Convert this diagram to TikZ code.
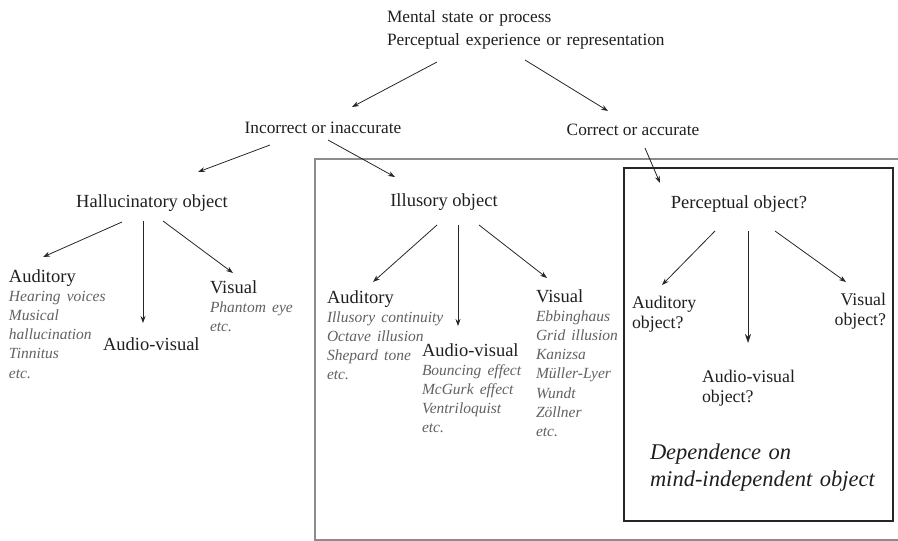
\documentclass[tikz,border=0pt]{standalone}
\usepackage{fontspec}
\setmainfont{Liberation Serif}
\usetikzlibrary{arrows.meta}
\newcommand\itm[1]{{\fontsize{15.5}{19.2}\selectfont\itshape\color{black!62}#1}}
\begin{document}
\begin{tikzpicture}[x=1pt,y=-1pt,
  every node/.style={inner sep=0pt, outer sep=0pt},
  hd/.style={font=\fontsize{17.3}{23}\selectfont, text=black!88, anchor=base},
  ohd/.style={hd, font=\fontsize{18.5}{23}\selectfont},
  blk/.style={align=left, text width=170pt, anchor=base west, font=\fontsize{18.5}{19.2}\selectfont, text=black!88},
  arr/.style={-{Stealth[length=7pt,width=5pt]}, line width=0.8pt, draw=black!85},
  bigarr/.style={-{Stealth[length=9pt,width=6pt]}, line width=0.8pt, draw=black!85},
]
\useasboundingbox (0,0) rectangle (898,541);
% boxes
\draw[line width=1.5pt, draw=black!45] (898,159) -- (315,159) -- (315,540) -- (898,540);
\draw[line width=1.8pt, draw=black!85] (624,168) rectangle (893,521);
% nodes
\node[blk, text width=300pt, font=\fontsize{17.3}{23}\selectfont] (top) at (387,22) {Mental state or process\\Perceptual experience or representation};
\node[hd] (inc) at (323,133) {Incorrect or inaccurate};
\node[hd] (cor) at (633,135) {Correct or accurate};
\node[ohd] (hal) at (152,207) {Hallucinatory object};
\node[ohd] (ill) at (444,206) {Illusory object};
\node[ohd] (per) at (739,208) {Perceptual object?};
\node[blk] (ha) at (9,282) {Auditory\\\itm{Hearing voices}\\\itm{Musical}\\\itm{hallucination}\\\itm{Tinnitus}\\\itm{etc.}};
\node[blk] (hav) at (103,350) {Audio-visual};
\node[blk] (hv) at (210,293) {Visual\\\itm{Phantom eye}\\\itm{etc.}};
\node[blk] (ia) at (327,303) {Auditory\\\itm{Illusory continuity}\\\itm{Octave illusion}\\\itm{Shepard tone}\\\itm{etc.}};
\node[blk] (iav) at (422,356) {Audio-visual\\\itm{Bouncing effect}\\\itm{McGurk effect}\\\itm{Ventriloquist}\\\itm{etc.}};
\node[blk] (iv) at (536,302) {Visual\\\itm{Ebbinghaus}\\\itm{Grid illusion}\\\itm{Kanizsa}\\\itm{Müller-Lyer}\\\itm{Wundt}\\\itm{Zöllner}\\\itm{etc.}};
\node[blk, font=\fontsize{17.8}{20}\selectfont] (pa) at (632,308) {Auditory\\object?};
\node[blk, text width=80pt, align=right, anchor=base east, font=\fontsize{17.8}{20}\selectfont] (pv) at (886,305) {Visual\\object?};
\node[blk, font=\fontsize{17.8}{20}\selectfont] (pav) at (702,382) {Audio-visual\\object?};
\node[blk, text width=240pt, font=\fontsize{22.5}{27}\selectfont\itshape] (dep) at (650,459) {Dependence on\\mind-independent object};
% arrows
\draw[arr] ([shift={(50,40)}]top.base west) -- ([shift={(29,-26)}]inc.base);
\draw[arr] ([shift={(138,38)}]top.base west) -- ([shift={(-25,-24)}]cor.base);
\draw[arr] ([shift={(-53,12)}]inc.base) -- ([shift={(46,-35)}]hal.base);
\draw[arr] ([shift={(5,7)}]inc.base) -- ([shift={(-49,-29)}]ill.base);
\draw[arr] ([shift={(12,13)}]cor.base) -- ([shift={(-79,-25)}]per.base);
\draw[arr] ([shift={(-30,15)}]hal.base) -- ([shift={(34,-25)}]ha.base west);
\draw[arr] ([shift={(-9,14)}]hal.base) -- ([shift={(40,-27)}]hav.base west);
\draw[arr] ([shift={(11,14)}]hal.base) -- ([shift={(23,-20)}]hv.base west);
\draw[arr] ([shift={(-7,19)}]ill.base) -- ([shift={(46,-21)}]ia.base west);
\draw[arr] ([shift={(14,19)}]ill.base) -- ([shift={(36,-30)}]iav.base west);
\draw[arr] ([shift={(35,19)}]ill.base) -- ([shift={(11,-24)}]iv.base west);
\draw[arr] ([shift={(-24,23)}]per.base) -- ([shift={(30,-23)}]pa.base west);
\draw[bigarr] ([shift={(9,23)}]per.base) -- ([shift={(46,-39)}]pav.base west);
\draw[arr] ([shift={(36,23)}]per.base) -- ([shift={(-40,-23)}]pv.base east);
\end{tikzpicture}
\end{document}
